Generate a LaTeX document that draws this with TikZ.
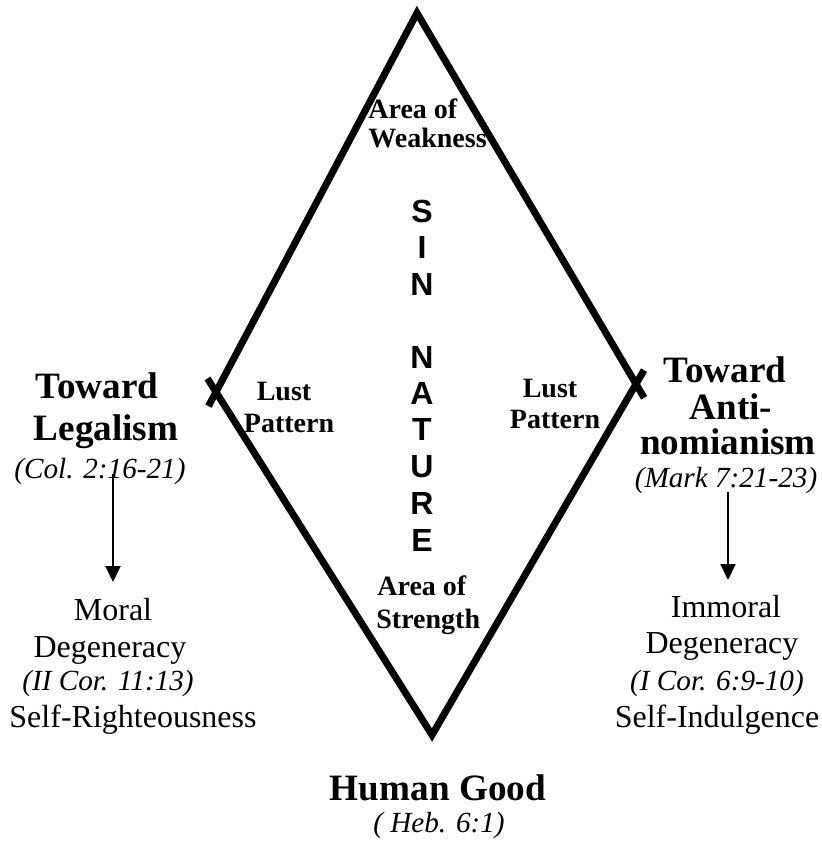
\documentclass[tikz,border=0pt]{standalone}
\usepackage{fontspec}
\setmainfont{Liberation Serif}
\newfontfamily\sinfont{Liberation Sans}
\usetikzlibrary{arrows.meta}

\tikzset{
  side/.style={line width=3.5pt, line join=miter, shorten <=-8pt, shorten >=-8pt},
  flow/.style={line width=1pt, -{Triangle[width=7.5pt,length=8pt]}},
  head/.style={anchor=base, inner sep=0pt, font=\fontsize{18.6}{22}\selectfont\bfseries},
  inside/.style={anchor=base, inner sep=0pt, font=\fontsize{14}{16}\selectfont\bfseries},
  ref/.style={anchor=base, inner sep=0pt, font=\fontsize{14.6}{17}\selectfont\itshape},
  plain/.style={anchor=base, inner sep=0pt, font=\fontsize{16}{19}\selectfont},
  sinletter/.style={anchor=base, inner sep=0pt, font=\fontsize{16}{18}\selectfont\sinfont\bfseries}
}

\begin{document}
\begin{tikzpicture}[x=0.5pt, y=-0.5pt]
    \useasboundingbox (0,0) rectangle (822,846);
    % the diamond
    \coordinate (top) at (417,13);
    \coordinate (left) at (216,392);
    \coordinate (bottom) at (432,735);
    \coordinate (right) at (636,384);
    \draw[side] (left) -- (top) -- (right);
    \draw[side] (left) -- (bottom) -- (right);

    % inside
    \node[inside, anchor=base west] (weak1) at (368,118) {Area of};
    \node[inside, anchor=base west] (weak2) at (368,147) {Weakness};
    \node[inside, anchor=base west] (strong1) at (377,595) {Area of};
    \node[inside, anchor=base west] (strong2) at (376,628) {Strength};
    \node[inside] (lustL1) at (284,400) {Lust};
    \node[inside] (lustL2) at (289,432) {Pattern};
    \node[inside] (lustR1) at (550,397) {Lust};
    \node[inside] (lustR2) at (555,428) {Pattern};
    \foreach \ch/\yy in {S/222,I/258,N/295,N/368,A/404,T/440,U/477,R/514,E/551}
        \node[sinletter] (sin\yy) at (422,\yy) {\ch};

    % left side
    \node[head] (towardL) at (97,398) {Toward};
    \node[head] (legal) at (106,440) {Legalism};
    \node[ref] (colref) at (100,478) {(Col. 2:16-21)};
    \node[plain] (moral) at (113,620) {Moral};
    \node[plain] (degenL) at (110,657) {Degeneracy};
    \node[ref] (corL) at (108,690) {(II Cor. 11:13)};
    \node[plain] (selfR) at (133,727) {Self-Righteousness};
    \coordinate (la) at (113,474);
    \coordinate (lb) at (113,582);
    \draw[flow] (la) -- (lb);

    % right side
    \node[head] (towardR) at (725,382) {Toward};
    \node[head] (anti) at (731,419) {Anti-};
    \node[head] (nomian) at (728,454) {nomianism};
    \node[ref] (markref) at (726,487) {(Mark 7:21-23)};
    \node[plain] (immoral) at (726,617) {Immoral};
    \node[plain] (degenR) at (722,653) {Degeneracy};
    \node[ref] (corR) at (717,690) {(I Cor. 6:9-10)};
    \node[plain] (selfI) at (717,727) {Self-Indulgence};
    \coordinate (ra) at (728,492);
    \coordinate (rb) at (728,580);
    \draw[flow] (ra) -- (rb);

    % bottom
    \node[head] (human) at (438,800) {Human Good};
    \node[ref] (hebref) at (439,832) {( Heb. 6:1)};
\end{tikzpicture}
\end{document}
